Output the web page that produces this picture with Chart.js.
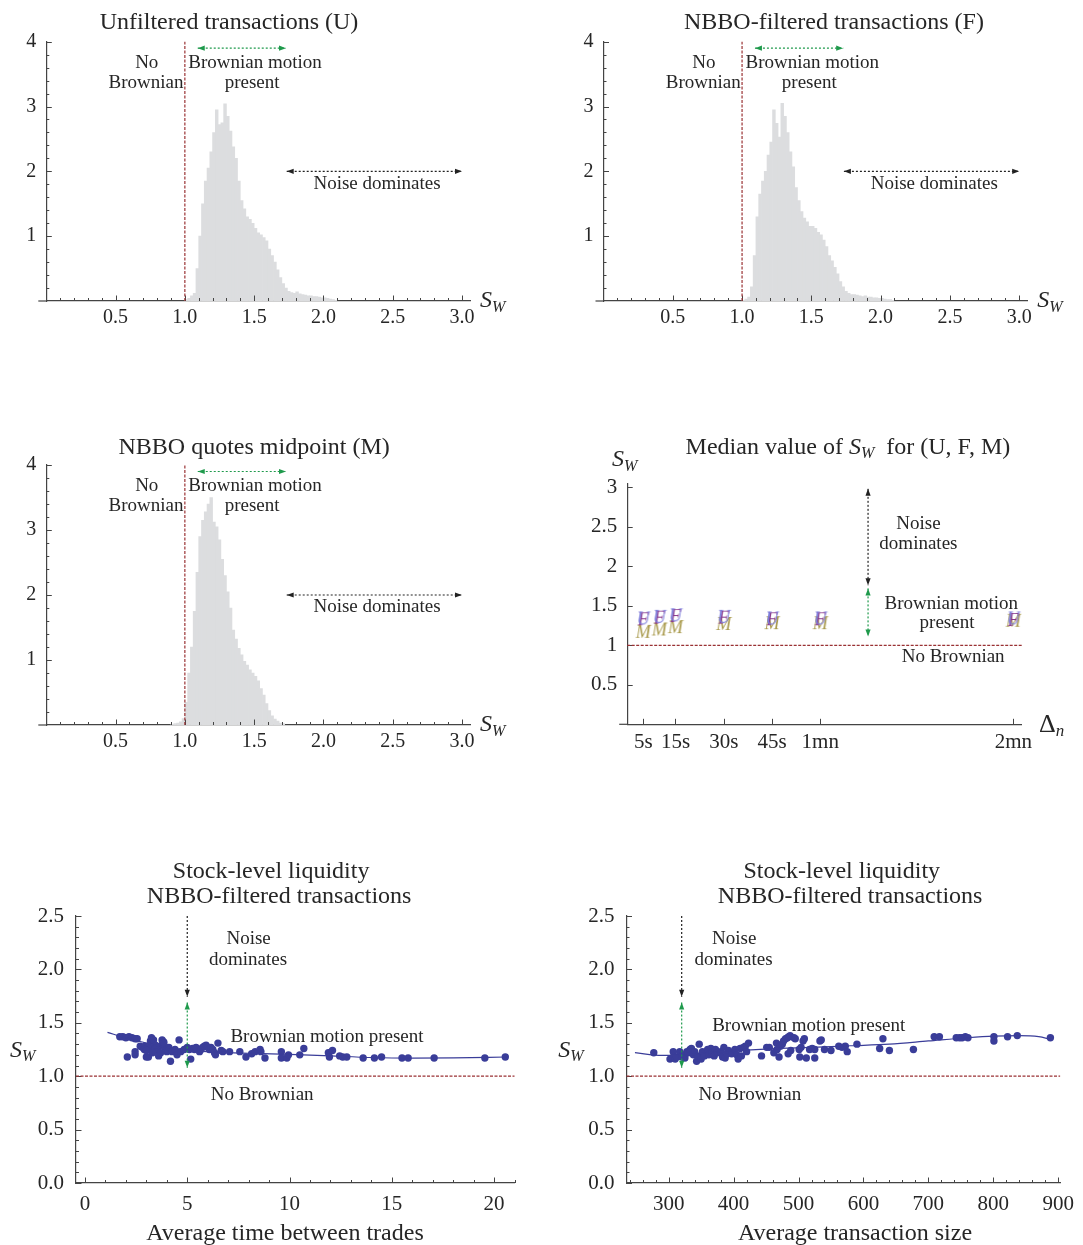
<!DOCTYPE html>
<html>
<head>
<meta charset="utf-8">
<script src="https://cdn.jsdelivr.net/npm/chart.js@4.4.1/dist/chart.umd.min.js"></script>
<style>
  html, body { margin: 0; padding: 0; background: #fff; }
  #page { position: relative; width: 1083px; height: 1245px; overflow: hidden; background: #fff; }
  #page canvas { position: absolute; }
</style>
</head>
<body>
<div id="page">
  <canvas id="histU"></canvas>
  <canvas id="histF"></canvas>
  <canvas id="histM"></canvas>
  <canvas id="median"></canvas>
  <canvas id="liqTime"></canvas>
  <canvas id="liqSize"></canvas>
</div>
<script>
// ---- data ----
// histogram bins (centres) and densities
const binsUF = [1.01, 1.03, 1.05, 1.07, 1.09, 1.11, 1.13, 1.15, 1.17, 1.19,
  1.21, 1.23, 1.25, 1.27, 1.29, 1.31, 1.33, 1.35, 1.37, 1.39,
  1.41, 1.43, 1.45, 1.47, 1.49, 1.51, 1.53, 1.55, 1.57, 1.59,
  1.61, 1.63, 1.65, 1.67, 1.69, 1.71, 1.73, 1.75, 1.77, 1.79,
  1.81, 1.83, 1.85, 1.87, 1.89, 1.91, 1.93, 1.95, 1.97, 1.99,
  2.01, 2.03, 2.05, 2.07, 2.09];
const histU = [0.02, 0.04, 0.08, 0.12, 0.5, 1.0, 1.5, 1.85, 2.05, 2.3,
  2.6, 2.95, 2.72, 2.75, 3.04, 2.85, 2.62, 2.38, 2.2, 1.85,
  1.55, 1.42, 1.3, 1.26, 1.2, 1.12, 1.05, 1.02, 0.98, 0.93,
  0.8, 0.7, 0.6, 0.48, 0.36, 0.27, 0.2, 0.15, 0.13, 0.12,
  0.14, 0.11, 0.1, 0.09, 0.08, 0.08, 0.07, 0.07, 0.06, 0.05,
  0.05, 0.04, 0.03, 0.02, 0.01];
const histF = [0.01, 0.03, 0.06, 0.22, 0.7, 1.3, 1.65, 1.85, 2.0, 2.25,
  2.45, 2.95, 2.74, 2.53, 3.05, 2.85, 2.6, 2.3, 2.07, 1.75,
  1.55, 1.38, 1.28, 1.22, 1.15, 1.15, 1.12, 1.06, 1.02, 0.94,
  0.84, 0.7, 0.62, 0.52, 0.42, 0.3, 0.22, 0.15, 0.12, 0.1,
  0.1, 0.09, 0.08, 0.07, 0.08, 0.06, 0.06, 0.05, 0.05, 0.04,
  0.04, 0.03, 0.02, 0.02, 0.01];
const binsM = [0.91, 0.93, 0.95, 0.97, 0.99, 1.01, 1.03, 1.05, 1.07, 1.09,
  1.11, 1.13, 1.15, 1.17, 1.19, 1.21, 1.23, 1.25, 1.27, 1.29,
  1.31, 1.33, 1.35, 1.37, 1.39, 1.41, 1.43, 1.45, 1.47, 1.49,
  1.51, 1.53, 1.55, 1.57, 1.59, 1.61, 1.63, 1.65, 1.67, 1.69,
  1.71];
const histM = [0.01, 0.02, 0.03, 0.05, 0.1, 0.35, 0.8, 1.2, 1.75, 2.35,
  2.9, 3.15, 3.28, 3.4, 3.5, 3.12, 3.05, 2.85, 2.55, 2.3,
  2.05, 1.8, 1.46, 1.32, 1.18, 1.08, 0.98, 0.92, 0.85, 0.8,
  0.75, 0.68, 0.56, 0.46, 0.33, 0.22, 0.14, 0.09, 0.06, 0.03,
  0.02];

// median S_W by sampling interval (seconds)
const intervals = [5, 10, 15, 30, 45, 60, 120];
const medianU = [1.34, 1.36, 1.38, 1.36, 1.34, 1.34, 1.34];
const medianF = [1.33, 1.35, 1.37, 1.35, 1.33, 1.33, 1.32];
const medianM = [1.17, 1.2, 1.23, 1.27, 1.28, 1.28, 1.31];

// stock level: average time between trades
const timeX = [1.7, 1.85, 2.0, 2.15, 2.3, 2.45, 2.55, 2.07, 2.45, 2.45, 2.7, 2.8, 2.94, 3.0, 3.1,
  3.2, 3.25, 3.35, 3.1, 3.25, 3.4, 3.55, 3.6, 3.75, 3.85, 3.9, 4.0, 3.6, 3.77, 3.85, 2.9, 3.0, 3.3, 3.45, 3.7, 4.1,
  4.18, 4.26, 4.4, 4.6, 4.5, 4.68, 4.85, 5.0, 5.1, 5.17,
  5.26, 5.35, 5.43, 5.6, 5.67, 5.75, 5.83, 5.92, 6.0, 6.08, 6.16, 6.25, 6.33, 6.38,
  6.5, 6.66, 6.74, 7.07, 7.57, 7.87, 8.15, 8.32, 8.56, 8.6, 8.8,
  9.6, 9.6, 9.87, 9.95, 10.5, 10.7, 11.9, 11.95, 12.1, 12.45, 12.6, 12.8, 13.6, 14.15, 14.5, 15.5, 15.8, 17.07, 19.55, 20.55];
const timeY = [1.37, 1.37, 1.36, 1.37, 1.36, 1.35, 1.35, 1.18, 1.2, 1.23, 1.28, 1.27, 1.28, 1.18, 1.18,
  1.33, 1.36, 1.34, 1.28, 1.26, 1.25, 1.27, 1.23, 1.29, 1.32, 1.27, 1.23, 1.19, 1.34, 1.31, 1.25, 1.24, 1.22, 1.29, 1.22, 1.27,
  1.14, 1.23, 1.25, 1.34, 1.2, 1.23, 1.25, 1.27, 1.25, 1.16,
  1.26, 1.25, 1.27, 1.23, 1.25, 1.27, 1.28, 1.29, 1.27, 1.25, 1.27, 1.25, 1.22, 1.2,
  1.31, 1.24, 1.23, 1.23, 1.23, 1.18, 1.21, 1.23, 1.25, 1.23, 1.17,
  1.23, 1.17, 1.17, 1.2, 1.2, 1.26, 1.22, 1.18, 1.24, 1.19, 1.18, 1.18, 1.17, 1.17, 1.18, 1.17, 1.17, 1.17, 1.17, 1.18];
const fitTimeX = [1.1, 2, 3, 4, 5, 6, 7, 8, 10, 12, 14, 16, 18, 20.6];
const fitTimeY = [1.41, 1.36, 1.31, 1.27, 1.245, 1.23, 1.22, 1.215, 1.205, 1.19, 1.175, 1.17, 1.172, 1.18];

// stock level: average transaction size
const sizeX = [277, 302, 305, 307, 310, 312,
  317, 320, 322, 325, 328, 330, 333, 335, 338, 340, 343, 345, 347, 350, 352, 355, 360, 362, 365, 367, 370, 372, 375, 380,
  383, 385, 387, 390, 392, 397, 402, 405, 407, 410, 412, 415, 418, 420, 423,
  443, 451, 455, 462, 466, 467, 470, 472, 475, 477, 480, 483, 485, 487, 484, 488, 493, 495, 501, 504, 507, 509, 502, 512,
  517, 521, 525, 525, 533, 535, 540, 550, 562, 567, 572, 575, 590, 625, 630, 640, 677, 709, 717,
  743, 748, 752, 757, 761, 801, 801, 822, 837, 888];
const sizeY = [1.22, 1.16, 1.17, 1.23, 1.16, 1.18,
  1.23, 1.18, 1.2, 1.17, 1.23, 1.22, 1.25, 1.26, 1.2, 1.23, 1.14, 1.19, 1.3, 1.16, 1.23, 1.19, 1.25, 1.2, 1.26, 1.22, 1.19, 1.25, 1.22, 1.23,
  1.18, 1.27, 1.17, 1.21, 1.24, 1.21, 1.25, 1.2, 1.16, 1.26, 1.19, 1.27, 1.28, 1.23, 1.31,
  1.19, 1.27, 1.27, 1.22, 1.31, 1.25, 1.18, 1.28, 1.3, 1.33, 1.35, 1.36, 1.37, 1.38, 1.21, 1.24, 1.36, 1.35, 1.25, 1.27, 1.33, 1.35, 1.18, 1.17,
  1.25, 1.26, 1.25, 1.17, 1.33, 1.34, 1.25, 1.24, 1.28, 1.27, 1.28, 1.23, 1.3, 1.26, 1.35, 1.24, 1.25, 1.37, 1.37,
  1.36, 1.36, 1.36, 1.37, 1.36, 1.37, 1.33, 1.37, 1.38, 1.36];
const fitSizeX = [248, 290, 330, 370, 420, 470, 520, 580, 640, 700, 760, 800, 840, 870, 888];
const fitSizeY = [1.22, 1.195, 1.2, 1.225, 1.245, 1.26, 1.27, 1.285, 1.3, 1.33, 1.36, 1.375, 1.38, 1.37, 1.345];

// tick values and labels
const histXTicks = [0.5, 1.0, 1.5, 2.0, 2.5, 3.0];
const histXLabels = ['0.5', '1.0', '1.5', '2.0', '2.5', '3.0'];
const histYTicks = [1, 2, 3, 4];
const histYLabels = ['1', '2', '3', '4'];
const medXTicks = [5, 15, 30, 45, 60, 120];
const medXLabels = ['5s', '15s', '30s', '45s', '1mn', '2mn'];
const medYTicks = [0.5, 1, 1.5, 2, 2.5, 3];
const medYLabels = ['0.5', '1', '1.5', '2', '2.5', '3'];
const liqYTicks = [0, 0.5, 1, 1.5, 2, 2.5];
const liqYLabels = ['0.0', '0.5', '1.0', '1.5', '2.0', '2.5'];
const timeXTicks = [0, 5, 10, 15, 20];
const timeXLabels = ['0', '5', '10', '15', '20'];
const sizeXTicks = [300, 400, 500, 600, 700, 800, 900];
const sizeXLabels = ['300', '400', '500', '600', '700', '800', '900'];

// ---- styling ----
const FONT = '"Liberation Serif", "DejaVu Serif", "Times New Roman", serif';
const INK = '#262626';
const AXIS = '#444444';
const RED = '#9a3234';
const GREEN = '#1f9a4c';
const DARK = '#222222';
const DOT = '#3a3d99';
const HIST = '#dcdddf';
const SW = [{ t: 'S', it: true }, { t: 'W', it: true, sub: true }];

function range(a, b, s) {
  const out = [];
  for (let v = a; v <= b + 1e-9; v += s) out.push(+v.toFixed(4));
  return out;
}

// ---- drawing helpers for annotations ----
function drawRich(ctx, parts, x, y, size, align, color) {
  const fontOf = (p) => (p.it ? 'italic ' : '') + (p.sub ? Math.round(size * 0.66) : size) + 'px ' + FONT;
  let w = 0;
  const widths = parts.map((p) => {
    ctx.font = fontOf(p);
    const pw = ctx.measureText(p.t).width;
    w += pw;
    return pw;
  });
  let cx = align === 'center' ? x - w / 2 : align === 'right' ? x - w : x;
  ctx.fillStyle = color;
  ctx.textBaseline = 'middle';
  ctx.textAlign = 'left';
  parts.forEach((p, i) => {
    ctx.font = fontOf(p);
    // canvas "middle" sits a touch high for this face, nudge down
    ctx.fillText(p.t, cx, y + 2 + (p.sub ? size * 0.28 : 0));
    cx += widths[i];
  });
}

function drawArrow(ctx, x1, y1, x2, y2, color, heads) {
  ctx.save();
  ctx.strokeStyle = color;
  ctx.fillStyle = color;
  ctx.lineWidth = 1.2;
  ctx.setLineDash([2, 2]);
  ctx.beginPath();
  ctx.moveTo(x1, y1);
  ctx.lineTo(x2, y2);
  ctx.stroke();
  ctx.setLineDash([]);
  const head = (xa, ya, xb, yb) => {
    const ang = Math.atan2(yb - ya, xb - xa), L = 7, W = 2.6;
    const bx = xb - L * Math.cos(ang), by = yb - L * Math.sin(ang);
    ctx.beginPath();
    ctx.moveTo(xb, yb);
    ctx.lineTo(bx + W * Math.sin(ang), by - W * Math.cos(ang));
    ctx.lineTo(bx - W * Math.sin(ang), by + W * Math.cos(ang));
    ctx.closePath();
    ctx.fill();
  };
  if (heads === 'both' || heads === 'end') head(x1, y1, x2, y2);
  if (heads === 'both' || heads === 'start') head(x2, y2, x1, y1);
  ctx.restore();
}

// annotation specs by canvas id
const decor = {};

const decorPlugin = {
  id: 'decor',
  afterDraw(chart) {
    const d = decor[chart.canvas.id];
    if (!d) return;
    const { ctx, chartArea: a } = chart;
    const sx = chart.scales.x, sy = chart.scales.y;
    const X = (v) => sx.getPixelForValue(v);
    const Y = (v) => sy.getPixelForValue(v);
    ctx.save();

    // inward tick marks, Mathematica style
    ctx.strokeStyle = AXIS;
    ctx.lineWidth = 1;
    ctx.beginPath();
    const t = d.ticks;
    (t.xMinor || []).forEach((v) => { const p = Math.round(X(v)) + 0.5; ctx.moveTo(p, a.bottom); ctx.lineTo(p, a.bottom - 3); });
    (t.xMajor || []).forEach((v) => { const p = Math.round(X(v)) + 0.5; ctx.moveTo(p, a.bottom); ctx.lineTo(p, a.bottom - 5.5); });
    (t.yMinor || []).forEach((v) => { const p = Math.round(Y(v)) + 0.5; ctx.moveTo(a.left, p); ctx.lineTo(a.left + 3, p); });
    (t.yMajor || []).forEach((v) => { const p = Math.round(Y(v)) + 0.5; ctx.moveTo(a.left, p); ctx.lineTo(a.left + 5.5, p); });
    ctx.stroke();

    // x axis pokes out a little left of the y axis
    if (d.axisExt) {
      ctx.lineWidth = 1.2;
      ctx.beginPath();
      ctx.moveTo(a.left - d.axisExt, a.bottom);
      ctx.lineTo(a.left, a.bottom);
      ctx.stroke();
    }

    // red "no Brownian" reference line
    ctx.strokeStyle = RED;
    ctx.lineWidth = 1.2;
    ctx.setLineDash([3, 1.5]);
    ctx.beginPath();
    if (d.vline) { ctx.moveTo(X(d.vline.x), Y(d.vline.y1)); ctx.lineTo(X(d.vline.x), Y(d.vline.y2)); }
    if (d.hline) { ctx.moveTo(a.left, Y(d.hline.y)); ctx.lineTo(a.right, Y(d.hline.y)); }
    ctx.stroke();
    ctx.setLineDash([]);

    (d.arrows || []).forEach((r) => drawArrow(ctx, X(r.x1), Y(r.y1), X(r.x2), Y(r.y2), r.color, r.heads));

    (d.texts || []).forEach((s) => {
      const parts = s.parts || [{ t: s.t }];
      drawRich(ctx, parts, X(s.x), Y(s.y), s.size || 19, s.align || 'center', INK);
    });
    ctx.restore();
  },
};

function scaleOpts(spec, fit) {
  return {
    type: 'linear',
    min: spec.min,
    max: spec.max,
    offset: false,
    grid: { display: false, drawTicks: false, offset: false },
    border: { display: true, color: AXIS, width: 1.2 },
    ticks: {
      color: INK,
      font: { family: FONT, size: spec.fontSize || 20 },
      padding: spec.pad,
      autoSkip: false,
      maxRotation: 0,
      callback: (v, i) => spec.labels[i],
    },
    afterBuildTicks: (s) => { s.ticks = spec.ticks.map((v) => ({ value: v })); },
    afterFit: fit,
  };
}

function makeChart(id, type, datasets, cfg) {
  const [bl, bt, bw, bh] = cfg.box;
  const [al, at, ar, ab] = cfg.area;
  const cv = document.getElementById(id);
  cv.width = bw;
  cv.height = bh;
  cv.style.left = bl + 'px';
  cv.style.top = bt + 'px';
  cv.style.width = bw + 'px';
  cv.style.height = bh + 'px';
  decor[id] = cfg.decor;
  return new Chart(cv, {
    type,
    data: { datasets },
    options: {
      responsive: false,
      animation: false,
      devicePixelRatio: 1,
      layout: { padding: { left: 0, top: at - bt, right: bl + bw - ar, bottom: 0 } },
      plugins: { legend: { display: false }, tooltip: { enabled: false }, title: { display: false } },
      scales: {
        x: scaleOpts(cfg.x, (s) => { s.height = bt + bh - ab; }),
        y: scaleOpts(cfg.y, (s) => { s.width = al - bl; }),
      },
    },
    plugins: [decorPlugin],
  });
}

// ---- histograms ----
function histDecor(title, titleX, titleY) {
  return {
    vline: { x: 1, y1: 0, y2: 4 },
    axisExt: 8,
    arrows: [
      { x1: 1.093, y1: 3.9, x2: 1.73, y2: 3.9, color: GREEN, heads: 'both' },
      { x1: 1.735, y1: 2.0, x2: 3.0, y2: 2.0, color: DARK, heads: 'both' },
    ],
    texts: [
      { t: title, x: titleX, y: titleY, size: 24 },
      { t: 'No', x: 0.725, y: 3.7 },
      { t: 'Brownian', x: 0.72, y: 3.4 },
      { t: 'Brownian motion', x: 1.507, y: 3.7 },
      { t: 'present', x: 1.485, y: 3.4 },
      { t: 'Noise dominates', x: 2.387, y: 1.84 },
      { parts: SW, x: 3.13, y: 0.03, size: 24, align: 'left' },
    ],
    ticks: { xMajor: histXTicks, xMinor: range(0.1, 3.0, 0.1), yMajor: histYTicks, yMinor: range(0.2, 4, 0.2) },
  };
}
const histX = { min: 0, max: 3.06, ticks: histXTicks, labels: histXLabels, pad: 5 };
const histY = { min: 0, max: 4, ticks: histYTicks, labels: histYLabels, pad: 10 };

function histSet(bins, vals) {
  return [{
    data: bins.map((x, i) => ({ x, y: vals[i] })),
    backgroundColor: HIST,
    borderWidth: 0,
    barPercentage: 1,
    categoryPercentage: 1,
  }];
}

makeChart('histU', 'bar', histSet(binsUF, histU), {
  box: [0, 0, 540, 345], area: [46.3, 41.7, 470.3, 301],
  x: histX, y: histY, decor: histDecor('Unfiltered transactions (U)', 1.319, 4.32),
});
makeChart('histF', 'bar', histSet(binsUF, histF), {
  box: [557, 0, 526, 345], area: [603.5, 41.7, 1027.5, 301],
  x: histX, y: histY, decor: histDecor('NBBO-filtered transactions (F)', 1.663, 4.32),
});
makeChart('histM', 'bar', histSet(binsM, histM), {
  box: [0, 424, 540, 345], area: [46.3, 465, 470.3, 725],
  x: histX, y: histY, decor: histDecor('NBBO quotes midpoint (M)', 1.5, 4.29),
});

// ---- median S_W per interval: letters as point markers ----
function letterSprite(ch, color) {
  const c = document.createElement('canvas');
  c.width = 24;
  c.height = 24;
  const g = c.getContext('2d');
  g.font = 'italic 18px ' + FONT;
  g.fillStyle = color;
  g.textAlign = 'center';
  g.textBaseline = 'middle';
  g.fillText(ch, 12, 13);
  return c;
}
function letterSet(vals, ch, color) {
  return {
    data: intervals.map((x, i) => ({ x, y: vals[i] })),
    pointStyle: letterSprite(ch, color),
    pointRadius: 6,
    showLine: false,
  };
}
makeChart('median', 'scatter', [
  letterSet(medianU, 'U', '#7a7bdc'),
  letterSet(medianF, 'F', '#87358a'),
  letterSet(medianM, 'M', '#a8994a'),
], {
  box: [560, 424, 523, 345], area: [627.2, 483.3, 1021.7, 724.3],
  x: { min: 0, max: 122.6, ticks: medXTicks, labels: medXLabels, pad: 6, fontSize: 21 },
  y: { min: 0, max: 3.05, ticks: medYTicks, labels: medYLabels, pad: 10, fontSize: 21 },
  decor: {
    hline: { y: 1 },
    axisExt: 8,
    arrows: [
      { x1: 74.85, y1: 2.98, x2: 74.85, y2: 1.76, color: DARK, heads: 'both' },
      { x1: 74.85, y1: 1.72, x2: 74.85, y2: 1.11, color: GREEN, heads: 'both' },
    ],
    texts: [
      { parts: [{ t: 'Median value of ' }, ...SW, { t: '  for (U, F, M)' }], x: 68.6, y: 3.53, size: 24 },
      { parts: SW, x: -4.7, y: 3.37, size: 24, align: 'left' },
      { parts: [{ t: 'Δ' }, { t: 'n', it: true, sub: true }], x: 128, y: 0.02, size: 26, align: 'left' },
      { t: 'Noise', x: 90.5, y: 2.56 },
      { t: 'dominates', x: 90.5, y: 2.31 },
      { t: 'Brownian motion', x: 100.7, y: 1.55 },
      { t: 'present', x: 99.4, y: 1.31 },
      { t: 'No Brownian', x: 101.3, y: 0.88 },
    ],
    ticks: { xMajor: medXTicks, yMajor: medYTicks },
  },
});

// ---- stock-level liquidity scatter plots ----
function liqSets(xs, ys, fx, fy) {
  return [
    {
      data: fx.map((x, i) => ({ x, y: fy[i] })),
      showLine: true,
      borderColor: DOT,
      borderWidth: 1.2,
      pointRadius: 0,
      cubicInterpolationMode: 'monotone',
    },
    {
      data: xs.map((x, i) => ({ x, y: ys[i] })),
      backgroundColor: DOT,
      borderWidth: 0,
      pointRadius: 3.7,
      showLine: false,
    },
  ];
}
const liqY = { min: 0, max: 2.5, ticks: liqYTicks, labels: liqYLabels, pad: 12, fontSize: 21 };

makeChart('liqTime', 'scatter', liqSets(timeX, timeY, fitTimeX, fitTimeY), {
  box: [0, 850, 540, 395], area: [76, 916, 514.5, 1183],
  x: { min: -0.44, max: 21.0, ticks: timeXTicks, labels: timeXLabels, pad: 9, fontSize: 21 },
  y: liqY,
  decor: {
    hline: { y: 1 },
    arrows: [
      { x1: 5, y1: 2.5, x2: 5, y2: 1.745, color: DARK, heads: 'end' },
      { x1: 5, y1: 1.69, x2: 5, y2: 1.08, color: GREEN, heads: 'both' },
    ],
    texts: [
      { t: 'Stock-level liquidity', x: 9.1, y: 2.93, size: 24 },
      { t: 'NBBO-filtered transactions', x: 9.49, y: 2.7, size: 24 },
      { t: 'Average time between trades', x: 9.78, y: -0.46, size: 24 },
      { parts: SW, x: -3.67, y: 1.26, size: 24, align: 'left' },
      { t: 'Noise', x: 8.0, y: 2.3 },
      { t: 'dominates', x: 7.97, y: 2.11 },
      { t: 'Brownian motion present', x: 11.83, y: 1.39 },
      { t: 'No Brownian', x: 8.66, y: 0.84 },
    ],
    ticks: { xMajor: timeXTicks, xMinor: range(1, 21, 1), yMajor: liqYTicks, yMinor: range(0.1, 2.5, 0.1) },
  },
});

makeChart('liqSize', 'scatter', liqSets(sizeX, sizeY, fitSizeX, fitSizeY), {
  box: [545, 850, 538, 395], area: [626.5, 916, 1066, 1183],
  x: { min: 235, max: 903, ticks: sizeXTicks, labels: sizeXLabels, pad: 9, fontSize: 21 },
  y: liqY,
  decor: {
    hline: { y: 1 },
    arrows: [
      { x1: 320, y1: 2.5, x2: 320, y2: 1.745, color: DARK, heads: 'end' },
      { x1: 320, y1: 1.69, x2: 320, y2: 1.08, color: GREEN, heads: 'both' },
    ],
    texts: [
      { t: 'Stock-level liquidity', x: 566.6, y: 2.93, size: 24 },
      { t: 'NBBO-filtered transactions', x: 579.5, y: 2.7, size: 24 },
      { t: 'Average transaction size', x: 587, y: -0.46, size: 24 },
      { parts: SW, x: 130, y: 1.26, size: 24, align: 'left' },
      { t: 'Noise', x: 401, y: 2.3 },
      { t: 'dominates', x: 400, y: 2.11 },
      { t: 'Brownian motion present', x: 515.7, y: 1.485 },
      { t: 'No Brownian', x: 425, y: 0.84 },
    ],
    ticks: { xMajor: sizeXTicks, xMinor: range(240, 900, 20), yMajor: liqYTicks, yMinor: range(0.1, 2.5, 0.1) },
  },
});
</script>
</body>
</html>
